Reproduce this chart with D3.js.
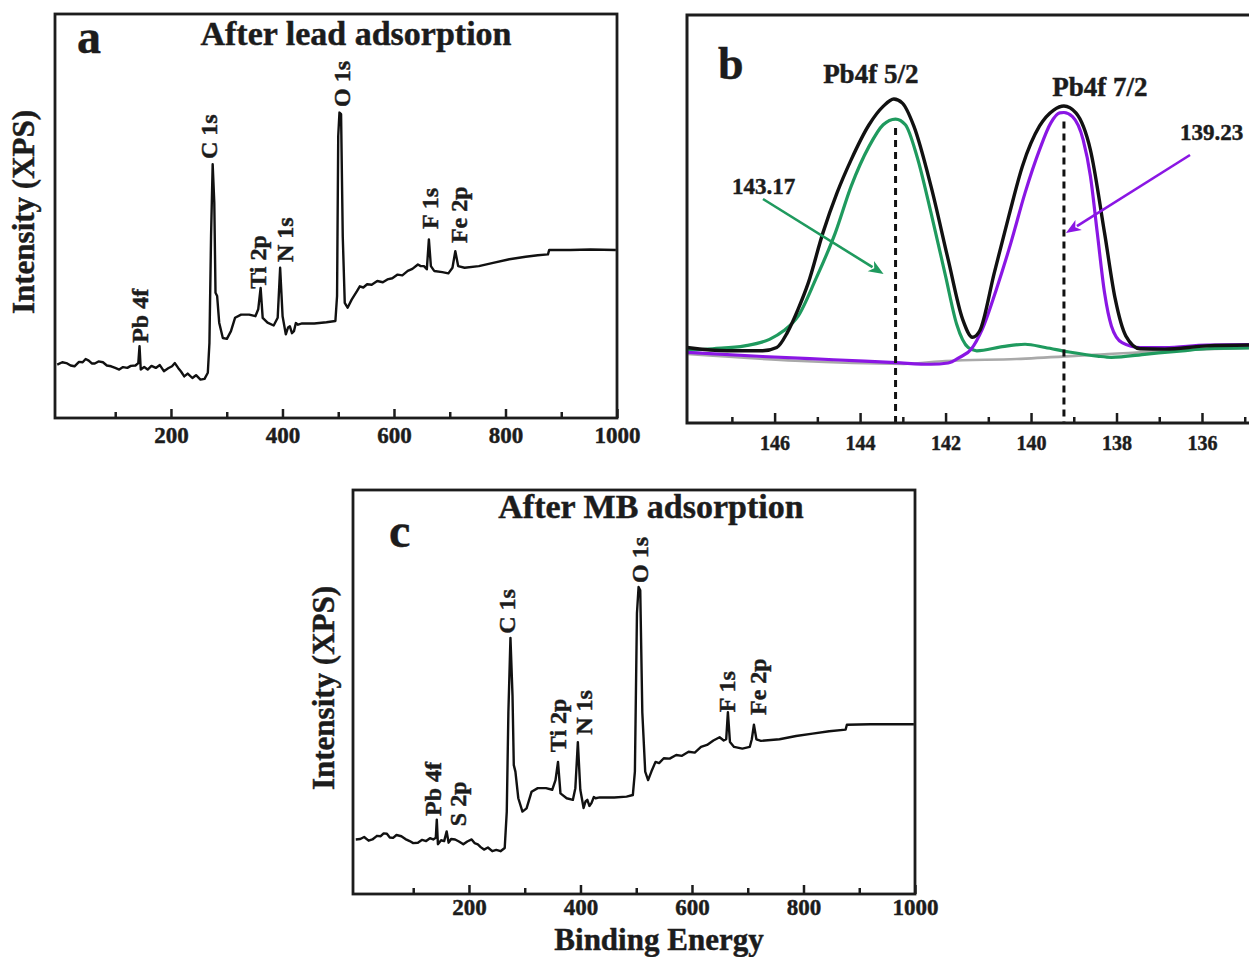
<!DOCTYPE html>
<html>
<head>
<meta charset="utf-8">
<script src="https://cdn.jsdelivr.net/npm/d3@7"></script>
<style>
  html, body { margin: 0; padding: 0; background: #fff; }
  svg text { font-family: "Liberation Serif", "Times New Roman", serif; font-weight: bold; fill: #1c1c1c;
             stroke: #1c1c1c; stroke-width: 0.45px; paint-order: stroke; }
</style>
</head>
<body>
<svg id="fig" width="1249" height="957"></svg>
<script>
// ---------- survey spectrum after lead adsorption: [binding energy (eV), intensity (a.u.)] ----------
const surveyLead = [
  [-4,13.2],[5,13.8],[12.4,13.6],[20,13.0],[27,12.8],[35,13.9],[41.6,13.8],[47,14.6],[52.5,14.2],[58,13.5],
  [63.4,13.5],[70,14.0],[78,13.8],[85,13.0],[92.6,12.8],[100,12.4],[107.2,12.0],[114,12.6],[121.7,12.4],[128,12.9],
  [136.3,13.0],[141.4,13.6],[143.6,17.8],[145.8,12.0],[152,12.6],[158.2,12.0],[165,12.9],[172.8,12.4],[180,13.1],
  [187.3,11.6],[195,12.3],[201.9,12.8],[207,13.6],[212.9,12.4],[218,11.5],[223.8,10.3],[230,11.0],[238.4,9.9],
  [245,10.6],[252.9,9.5],[260.2,9.7],[266.1,11.2],[269.0,18.6],[271.9,45.0],[274.8,62.8],[277.7,53.3],[279.9,31.0],
  [282.8,30.2],[286.5,23.6],[293.0,19.8],[300.3,19.6],[307.6,21.5],[314.9,24.8],[325.8,25.6],[340.4,25.6],[351.4,25.2],
  [356.5,26.9],[360.8,32.2],[364.5,24.8],[373.2,23.6],[384.2,22.9],[391.4,24.8],[395.8,37.2],[400.2,25.2],[406.0,20.7],
  [410,22.4],[413.3,22.7],[417,21.0],[420.6,21.5],[424,23.5],[427.9,23.1],[435.2,23.4],[457.0,23.4],[478.9,23.7],
  [494.9,24.0],[497.9,30.2],[500.0,69.8],[502.2,75.6],[505.1,75.2],[508.1,45.0],[511.7,28.5],[516.8,27.3],[524.1,29.3],
  [533.6,31.4],[538.7,32.6],[545,32.3],[551.8,33.1],[560,33.0],[570,33.9],[580,33.6],[588.2,34.3],[597,34.6],
  [606.5,35.5],[615,35.3],[624.7,36.4],[633,36.9],[642.9,38.0],[648,37.6],[653.8,37.6],[658.9,36.8],[662.6,44.2],
  [666.2,37.6],[672.1,36.4],[686.6,36.1],[697.6,35.8],[704.9,37.2],[710.0,41.3],[715.1,37.6],[726.7,37.2],[752.2,37.6],
  [777.8,38.4],[806.9,39.3],[836.1,39.9],[857.9,40.3],[876.2,40.5],[878.4,41.6],[916.2,41.6],[952.7,41.7],[998,41.6]
];

// ---------- survey spectrum after MB adsorption ----------
const surveyMB = [
  [-3,13.5],[5,13.6],[12,14.1],[20,13.2],[26.8,13.5],[35,14.4],[41.7,14.3],[47,15.0],[52.8,14.9],[58,14.0],
  [63.9,13.9],[70,14.6],[78.7,14.3],[86,13.6],[93.6,13.1],[100,12.6],[108.4,12.7],[116,13.4],[123.2,13.1],[130,13.8],
  [135.8,13.5],[140.5,13.9],[142.3,18.4],[144.3,12.3],[150,13.3],[155.5,13.1],[160,15.5],[163.5,12.7],[168,13.6],
  [175.1,13.5],[182,13.0],[189.9,12.3],[197,13.0],[204.8,13.5],[210,12.6],[215.9,12.3],[221,11.6],[227.0,11.0],
  [234,11.5],[241.8,10.6],[249,10.9],[256.6,10.6],[264.1,11.4],[267.8,20.4],[270.7,45.0],[274.4,63.4],[278.1,49.1],
  [280.4,31.9],[283.3,30.3],[288.5,23.7],[295.9,20.4],[303.3,21.2],[312.2,25.3],[323.4,26.2],[338.2,26.2],[349.3,25.8],
  [355.2,28.2],[359.7,32.7],[364.1,24.9],[375.2,23.7],[386.4,23.3],[390.8,26.2],[395.3,37.6],[399.7,25.8],[405.6,21.3],
  [409,22.9],[412.3,23.3],[416,21.8],[419.7,22.5],[424,24.0],[427.1,23.7],[434.6,23.9],[460.5,23.9],[482.7,24.1],
  [493.9,24.5],[497.6,30.3],[501.3,69.5],[504.2,76.0],[507.2,75.2],[510.9,45.0],[516.1,30.3],[521.3,28.2],[527.2,30.3],
  [534.6,32.7],[541,32.4],[549.4,33.6],[560,33.5],[571.7,34.4],[582,34.2],[593.9,35.2],[605,35.0],[616.2,36.4],
  [627,36.9],[638.4,38.0],[649.5,38.8],[656.9,38.0],[661.4,38.3],[664.4,45.0],[668.1,37.6],[675.5,36.4],[690.3,36.0],
  [703.6,36.4],[707.3,38.3],[711.1,41.9],[715.5,38.3],[723.7,37.9],[757.0,38.3],[786.7,39.1],[816.3,39.7],[846.0,40.3],
  [875.6,40.7],[877.8,41.9],[920.1,42.0],[964.6,42.0],[998,42.0]
];

// peak assignments: name, binding energy of the label, intensity level at the label's foot
const leadPeakNames  = ["Pb 4f", "C 1s", "Ti 2p", "N 1s", "O 1s", "F 1s", "Fe 2p"];
const leadPeakBE     = [144.5, 267.5, 356.1, 403.8, 506.5, 664.6, 716.7];
const leadPeakLevel  = [18.6, 64.1, 32.0, 38.6, 77.0, 46.8, 43.3];

const mbPeakNames    = ["Pb 4f", "S 2p", "C 1s", "Ti 2p", "N 1s", "O 1s", "F 1s", "Fe 2p"];
const mbPeakBE       = [134.0, 180.0, 268.2, 359.7, 406.3, 506.8, 662.0, 717.6];
const mbPeakLevel    = [19.3, 16.8, 64.4, 35.1, 39.4, 77.0, 45.0, 44.3];

const surveyMajorTicks = [200, 400, 600, 800, 1000];
const surveyMinorTicks = [100, 300, 500, 700, 900];

// ---------- Pb 4f high-resolution fit: [binding energy (eV), intensity (a.u.)] ----------
const fitEnvelope = [
  [148.05,18.5],[147.11,17.7],[146.28,17.7],[145.95,18.5],[145.70,22.2],[145.45,27.9],[145.21,34.4],[144.87,46.6],
  [144.54,56.4],[144.21,64.5],[143.79,73.1],[143.46,77.6],[143.21,79.4],[143.01,78.4],[142.74,72.7],[142.34,58.0],
  [141.94,40.1],[141.60,25.4],[141.37,21.0],[141.20,22.6],[140.86,36.8],[140.52,50.7],[140.20,63.0],[139.80,72.8],
  [139.47,76.7],[139.23,77.7],[138.95,76.0],[138.61,66.9],[138.28,46.6],[138.03,30.4],[137.78,21.3],[137.45,18.2],
  [136.87,18.1],[135.89,18.9],[134.90,19.1]
];
const fitPb52 = [
  [148.05,17.8],[147.45,18.2],[146.70,18.9],[146.12,20.5],[145.79,22.6],[145.45,26.2],[145.04,35.2],[144.58,46.6],
  [144.21,58.0],[143.79,67.8],[143.46,73.1],[143.17,74.5],[142.94,73.1],[142.67,65.4],[142.34,51.5],[142.00,36.0],
  [141.74,24.2],[141.47,18.5],[141.27,17.7],[140.67,18.7],[140.14,19.3],[139.67,18.5],[139.11,17.4],[138.45,16.4],
  [138.12,16.1],[137.29,16.9],[136.46,17.7],[135.89,18.2],[134.90,18.4]
];
const fitPb72 = [
  [148.05,17.3],[146.28,16.3],[144.62,15.5],[143.17,14.8],[142.34,14.4],[141.94,14.7],[141.67,16.1],[141.40,18.1],
  [141.14,23.0],[140.81,32.8],[140.47,44.2],[140.14,56.4],[139.80,67.0],[139.54,73.5],[139.33,76.0],[139.23,76.1],
  [139.03,75.1],[138.78,69.4],[138.61,60.5],[138.45,46.6],[138.28,31.9],[138.12,23.8],[137.87,19.7],[137.45,18.5],
  [136.87,18.5],[135.89,19.1],[134.90,19.2]
];
const fitBackground = [
  [148.05,16.9],[142.98,14.5],[142.00,15.2],[140.34,15.7],[138.53,16.7],[135.89,18.1],[134.90,18.4]
];
const peakCenters = [143.17, 139.23];
const peakTitles  = ["Pb4f 5/2", "Pb4f 7/2"];
const peakTitleBE = [143.75, 138.39];
const hrMajorTicks = [146, 144, 142, 140, 138, 136];
const hrMinorTicks = [147, 145, 143, 141, 139, 137, 135];

// ---------- drawing ----------
const svg = d3.select("#fig");
const INK = "#1c1c1c";
const GREEN = "#1f9a5e";
const PURPLE = "#8a16e4";

function bottomAxis(g, x, yPos, major, minor, opt) {
  const ax = g.append("g").attr("transform", `translate(0,${yPos})`);
  ax.append("g")
    .call(d3.axisBottom(x).tickValues(minor).tickSize(-opt.minorLen).tickFormat(""))
    .call(s => s.select(".domain").remove());
  ax.append("g")
    .call(d3.axisBottom(x).tickValues(major).tickSize(-opt.majorLen).tickPadding(opt.pad).tickFormat(d3.format("d")))
    .call(s => s.select(".domain").remove());
  ax.selectAll("g").attr("font-family", null).attr("font-size", null);
  ax.selectAll(".tick line").attr("stroke", INK).attr("stroke-width", 2.5);
  ax.selectAll(".tick text").style("font-size", opt.fontSize + "px").attr("fill", INK);
}

function drawSurvey(box, data, names, bes, levels, title, letter, extra) {
  const g = svg.append("g");
  const x = d3.scaleLinear().domain([-8, 1000]).range([box.left, box.right]);
  const y = d3.scaleLinear().domain([0, 100]).range([box.bottom, box.top]);

  g.append("path")
    .datum(data)
    .attr("fill", "none")
    .attr("stroke", "#111")
    .attr("stroke-width", 2.4)
    .attr("stroke-linejoin", "round")
    .attr("d", d3.line().x(d => x(d[0])).y(d => y(d[1])));

  names.forEach((n, i) => {
    g.append("text")
      .attr("transform", `translate(${x(bes[i])},${y(levels[i])}) rotate(-90)`)
      .attr("dy", "0.35em")
      .style("font-size", "24px")
      .text(n);
  });

  g.append("rect")
    .attr("x", box.left).attr("y", box.top)
    .attr("width", box.right - box.left).attr("height", box.bottom - box.top)
    .attr("fill", "none").attr("stroke", INK).attr("stroke-width", 2.8);

  bottomAxis(g, x, box.bottom, surveyMajorTicks, surveyMinorTicks,
    { majorLen: 9, minorLen: 6, pad: extra.tickPad, fontSize: 23 });

  g.append("text")
    .attr("x", (box.left + box.right) / 2 + extra.titleShift).attr("y", box.top + extra.titleBase)
    .attr("text-anchor", "middle")
    .style("font-size", "34px")
    .text(title);

  g.append("text")
    .attr("x", box.left + extra.letterX).attr("y", box.top + extra.letterBase)
    .style("font-size", "48px")
    .text(letter);

  g.append("text")
    .attr("transform", `translate(${box.left - extra.ylabelGap},${(box.top + box.bottom) / 2 - 4}) rotate(-90)`)
    .attr("text-anchor", "middle")
    .style("font-size", "31px")
    .text("Intensity (XPS)");

  return { x, y, g };
}

// panel a
drawSurvey({ left: 55, top: 14, right: 617, bottom: 418 }, surveyLead,
  leadPeakNames, leadPeakBE, leadPeakLevel, "After lead adsorption", "a",
  { titleShift: 20, titleBase: 31, letterX: 22, letterBase: 39, ylabelGap: 21, tickPad: 9 });

// panel c
const pc = drawSurvey({ left: 353, top: 490, right: 915, bottom: 894 }, surveyMB,
  mbPeakNames, mbPeakBE, mbPeakLevel, "After MB adsorption", "c",
  { titleShift: 17, titleBase: 28, letterX: 36, letterBase: 57, ylabelGap: 19, tickPad: 5 });

pc.g.append("text")
  .attr("x", 659).attr("y", 950)
  .attr("text-anchor", "middle")
  .style("font-size", "31px")
  .text("Binding Energy");

// panel b: Pb 4f high-resolution spectrum
(function () {
  const box = { left: 687, top: 15, right: 1262, bottom: 423 };
  const g = svg.append("g");
  const x = d3.scaleLinear().domain([148.05, 134.9]).range([687, 1249]);
  const y = d3.scaleLinear().domain([0, 100]).range([box.bottom, box.top]);
  const line = d3.line().x(d => x(d[0])).y(d => y(d[1])).curve(d3.curveMonotoneX);

  const curves = [
    [fitBackground, "#a9a9a9", 2.6],
    [fitPb52, GREEN, 3.2],
    [fitPb72, PURPLE, 3.2],
    [fitEnvelope, "#111", 3.4]
  ];
  curves.forEach(([d, c, w]) => {
    g.append("path").datum(d)
      .attr("fill", "none").attr("stroke", c).attr("stroke-width", w)
      .attr("stroke-linejoin", "round")
      .attr("d", line);
  });

  // dashed markers at each component maximum
  const compTops = [d3.max(fitPb52, d => d[1]), d3.max(fitPb72, d => d[1])];
  peakCenters.forEach((c, i) => {
    g.append("line")
      .attr("x1", x(c)).attr("x2", x(c))
      .attr("y1", y(compTops[i]) + 9).attr("y2", box.bottom)
      .attr("stroke", "#111").attr("stroke-width", 3)
      .attr("stroke-dasharray", "7,5");
  });

  // frame and axis
  g.append("rect")
    .attr("x", box.left).attr("y", box.top)
    .attr("width", box.right - box.left).attr("height", box.bottom - box.top)
    .attr("fill", "none").attr("stroke", INK).attr("stroke-width", 3);
  bottomAxis(g, x, box.bottom, hrMajorTicks, hrMinorTicks,
    { majorLen: 10, minorLen: 6, pad: 13, fontSize: 20 });

  // peak titles
  peakTitles.forEach((t, i) => {
    g.append("text")
      .attr("x", x(peakTitleBE[i])).attr("y", i === 0 ? 83 : 96)
      .attr("text-anchor", "middle")
      .style("font-size", "27px")
      .attr("fill", "#2a2a2a")
      .text(t);
  });

  g.append("text").attr("x", 718).attr("y", 79).style("font-size", "46px").text("b");

  // value call-outs with arrows pointing at the dashed markers
  const callouts = [
    { text: peakCenters[0].toFixed(2), tx: 732, ty: 194, from: [763, 199], tip: [x(peakCenters[0]) - 12, 274], color: GREEN },
    { text: peakCenters[1].toFixed(2), tx: 1180, ty: 140, from: [1190, 155], tip: [x(peakCenters[1]) + 2, 233], color: PURPLE }
  ];
  callouts.forEach(c => {
    g.append("text").attr("x", c.tx).attr("y", c.ty)
      .style("font-size", "23px").attr("fill", "#2a2a2a").text(c.text);
    const dx = c.tip[0] - c.from[0], dy = c.tip[1] - c.from[1];
    const L = Math.hypot(dx, dy), ux = dx / L, uy = dy / L;
    const headLen = 15, headW = 6;
    const bx = c.tip[0] - ux * headLen, by = c.tip[1] - uy * headLen;
    g.append("line")
      .attr("x1", c.from[0]).attr("y1", c.from[1])
      .attr("x2", bx + ux * 2).attr("y2", by + uy * 2)
      .attr("stroke", c.color).attr("stroke-width", 2.6);
    g.append("path")
      .attr("d", `M${c.tip[0]},${c.tip[1]} L${bx - uy * headW},${by + ux * headW} L${bx + ux * 4},${by + uy * 4} L${bx + uy * headW},${by - ux * headW} Z`)
      .attr("fill", c.color);
  });
})();
</script>
</body>
</html>
